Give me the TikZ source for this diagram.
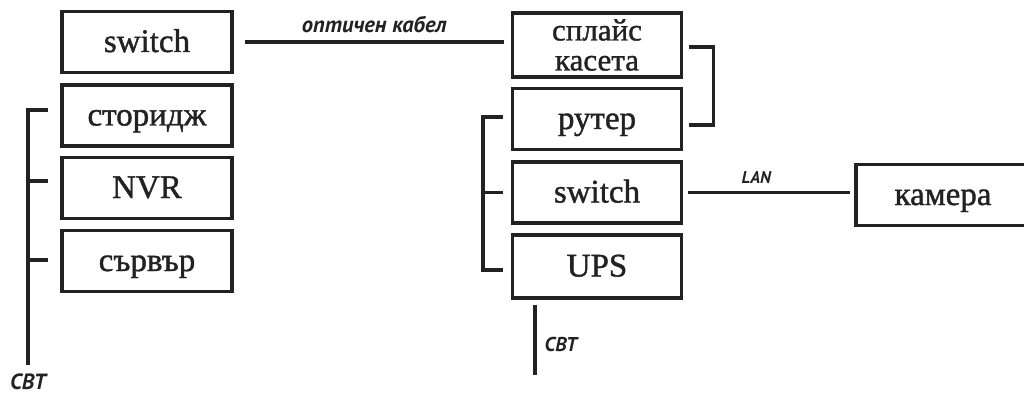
\documentclass[tikz,border=0pt]{standalone}
\usepackage{fontspec}
\usetikzlibrary{calc}
\newfontfamily\boxfont{Liberation Serif}[FakeBold=1.2]
\newfontfamily\labfont{PT Sans}
\definecolor{ink}{HTML}{222222}
\tikzset{
  box/.style={draw=ink, line width=3.1pt, inner sep=0pt, minimum height=61pt,
    text=ink, text height=26pt, text depth=6pt, font=\boxfont\fontsize{33}{36}\selectfont},
  lbox/.style={box, minimum width=170pt},
  rbox/.style={box, minimum width=169pt},
  conn/.style={draw=ink, line width=3.1pt},
  lab/.style={text=ink, inner sep=0pt, font=\labfont\bfseries\itshape\fontsize{20}{22}\selectfont},
}
\begin{document}
\begin{tikzpicture}[x=1pt,y=-1pt]
\useasboundingbox[fill=white] (0,0) rectangle (1024,398);
% left column
\node[lbox] (sw1) at (147,42) {switch};
\node[lbox] (sto) at (147,115.5) {сторидж};
\node[lbox] (nvr) at (147,188) {NVR};
\node[lbox] (srv) at (147,261) {сървър};
% right column
\node[rbox, minimum height=64pt, align=center, text height=, text depth=, font=\boxfont\fontsize{31}{30}\selectfont] (spl) at (597,45) {сплайс\\касета};
\node[rbox] (rut) at (597,119) {рутер};
\node[rbox] (sw2) at (597,192.5) {switch};
\node[rbox, minimum height=63pt] (ups) at (597,266.5) {UPS};
% camera
\node[box, minimum width=174pt] (cam) at (943,195) {камера};
% free ends
\coordinate (cbtL) at (28,365);
% optical cable
\draw[conn] ($(sw1.east)+(11,0)$) -- ($(spl.west |- sw1.east)+(-7,0)$)
  node[lab, pos=0.5, above=8pt, font=\labfont\bfseries\itshape\fontsize{22.5}{24}\selectfont] {оптичен кабел};
% bracket splice -- router
\draw[conn] ($(spl.east)+(6,2)$) -- ++(24,0) |- ($(rut.east)+(6,6)$);
% left column power bracket
\draw[conn] ($(sto.west)+(-12,-5.5)$) -| (cbtL);
\draw[conn] ($(nvr.west)+(-12,-7)$) -- ++(-22,0);
\draw[conn] ($(srv.west)+(-12,-1)$) -- ++(-22,0);
\node[lab, below=9pt, font=\labfont\bfseries\itshape\fontsize{22}{24}\selectfont] (cbtLt) at (cbtL) {CBT};
% right column bracket
\draw[conn] ($(rut.west)+(-8,-2)$) -- ++(-20,0) |- ($(ups.west)+(-8,3.5)$);
\draw[conn] ($(sw2.west)+(-8,0)$) -- ++(-20,0);
% CBT under UPS
\draw[conn] ($(ups.south)+(-62,5)$) -- ++(0,70)
  node[lab, pos=0.57, right=8pt, font=\labfont\bfseries\itshape\fontsize{20}{22}\selectfont] {CBT};
% LAN
\draw[conn] ($(sw2.east)+(5,0)$) -- ($(cam.west |- sw2.east)+(-4,0)$)
  node[lab, pos=0.42, above=7pt, font=\labfont\bfseries\itshape\fontsize{17}{20}\selectfont] {LAN};
\end{tikzpicture}
\end{document}
